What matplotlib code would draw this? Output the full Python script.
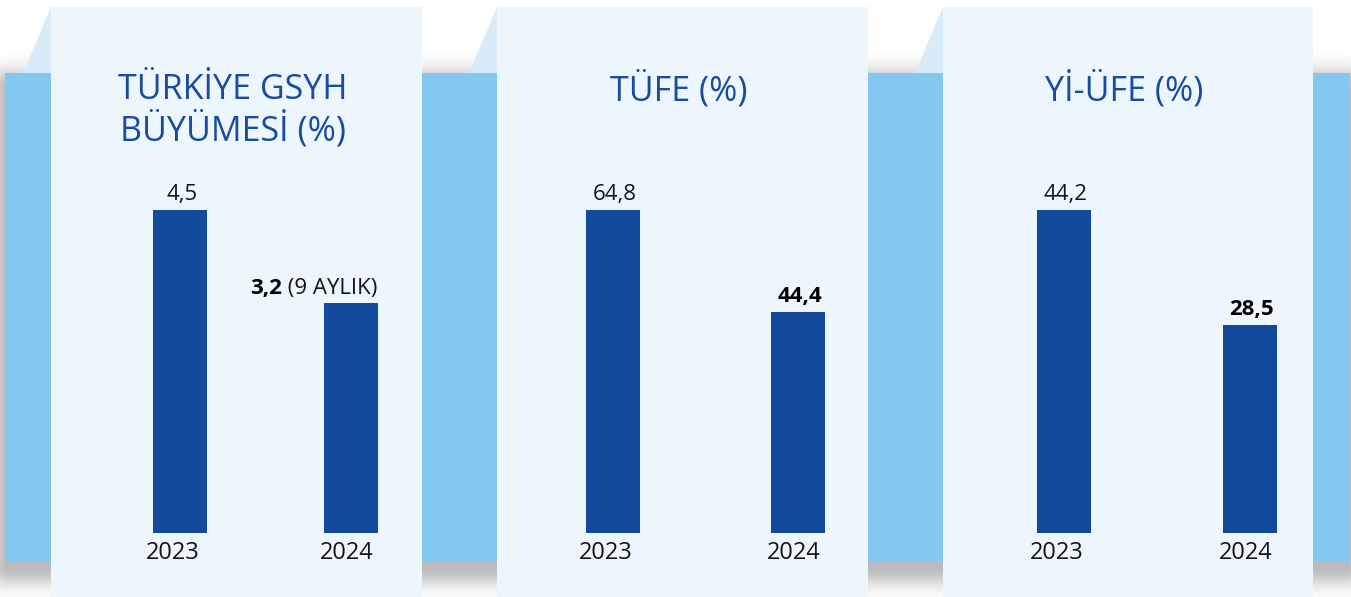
import numpy as np
import matplotlib
matplotlib.use('Agg')
from matplotlib import pyplot as plt
from matplotlib.patches import Rectangle, Polygon

plt.rcParams['font.family'] = ['Open Sans', 'DejaVu Sans']

# data
titles = ['TÜRKİYE GSYH\nBÜYÜMESİ (%)', 'TÜFE (%)', 'Yİ-ÜFE (%)']
years = ['2023', '2024']
values = [[4.5, 3.2], [64.8, 44.4], [44.2, 28.5]]
labels = [['4,5', '3,2'], ['64,8', '44,4'], ['44,2', '28,5']]
notes = ['(9 AYLIK)', '', '']

W, H = 1351, 597
bar_c = '#134A9B'
title_c = '#174C9E'
band_c = '#82C8F0'
panel_c = '#EEF6FD'
fold_c = '#D8EBF8'
txt_c = '#141414'

fig = plt.figure(figsize=(W / 100, H / 100), dpi=100)
bg = fig.add_axes([0, 0, 1, 1])
bg.set_xlim(0, W)
bg.set_ylim(H, 0)
bg.axis('off')

# soft shadow around the blue band (shadow box sits a bit lower than the band)
band = (5, 73, 1350, 562)
yy, xx = np.mgrid[0:H, 0:W] + 0.5
dx = np.maximum(np.maximum(band[0] + 4 - xx, xx - band[2] + 4), 0)
dy = np.maximum(np.maximum(band[1] + 14 - yy, yy - band[3] - 5), 0)
d = np.hypot(dx, dy)
alpha = 0.27 * np.exp(-d ** 2 / (2 * 13.0 ** 2))
shadow = np.zeros((H, W, 4))
shadow[..., 3] = alpha
bg.imshow(shadow, extent=(0, W, H, 0), zorder=0, interpolation='bilinear')

bg.add_patch(Rectangle((band[0], band[1]), band[2] - band[0], band[3] - band[1],
                       color=band_c, zorder=1, lw=0))

panels = [(51, 422), (497, 868), (943, 1313)]
bar_centers = [(180, 350.5), (612.5, 797.5), (1063.5, 1249.5)]
bar_w = 54
bar_bottom, bar_top = 533, 210

for k, (pl, pr) in enumerate(panels):
    bg.add_patch(Polygon([(pl, 7), (pl - 28, 73), (pl, 73)], color=fold_c, zorder=2, lw=0))
    bg.add_patch(Rectangle((pl, 7), pr - pl, H - 7, color=panel_c, zorder=3, lw=0))
    ty = 111 if '\n' in titles[k] else 90
    bg.text((pl + pr) / 2 - 4, ty, titles[k], ha='center', va='center', fontsize=24.5,
            fontweight='medium', color=title_c, zorder=4, linespacing=1.13)

    c0, c1 = bar_centers[k]
    dd = c1 - c0
    ax = fig.add_axes([(c0 - dd / 2) / W, (H - bar_bottom) / H, 2 * dd / W,
                       (bar_bottom - bar_top) / H])
    ax.patch.set_alpha(0)
    ax.set_xlim(-0.5, 1.5)
    ax.set_ylim(0, max(values[k]))
    ax.axis('off')
    x = np.arange(len(years))
    ax.bar(x, values[k], width=bar_w / dd, color=bar_c)
    for i in x:
        ax.annotate(years[i], (i, 0), xytext=(-5 if i == 0 else -2.5, -14.5),
                    textcoords='offset points', ha='center', va='center',
                    fontsize=17, color=txt_c, annotation_clip=False)
        bold = i == 1
        if notes[k] and i == 1:
            t = ax.annotate(' ' + notes[k], (i + bar_w / dd / 2, values[k][i]),
                            xytext=(0, 7), textcoords='offset points', ha='right',
                            va='baseline', fontsize=16, color=txt_c,
                            annotation_clip=False)
            ax.annotate(labels[k][i], (0, 0), xycoords=t, ha='right', va='bottom',
                        fontsize=16, fontweight='bold', color='#000000')
        else:
            ax.annotate(labels[k][i], (i, values[k][i]), xytext=(1.5, 7),
                        textcoords='offset points', ha='center', va='baseline',
                        fontsize=16, fontweight='bold' if bold else 'normal',
                        color='#000000' if bold else txt_c, annotation_clip=False)

fig.savefig('out.png', dpi=100)
